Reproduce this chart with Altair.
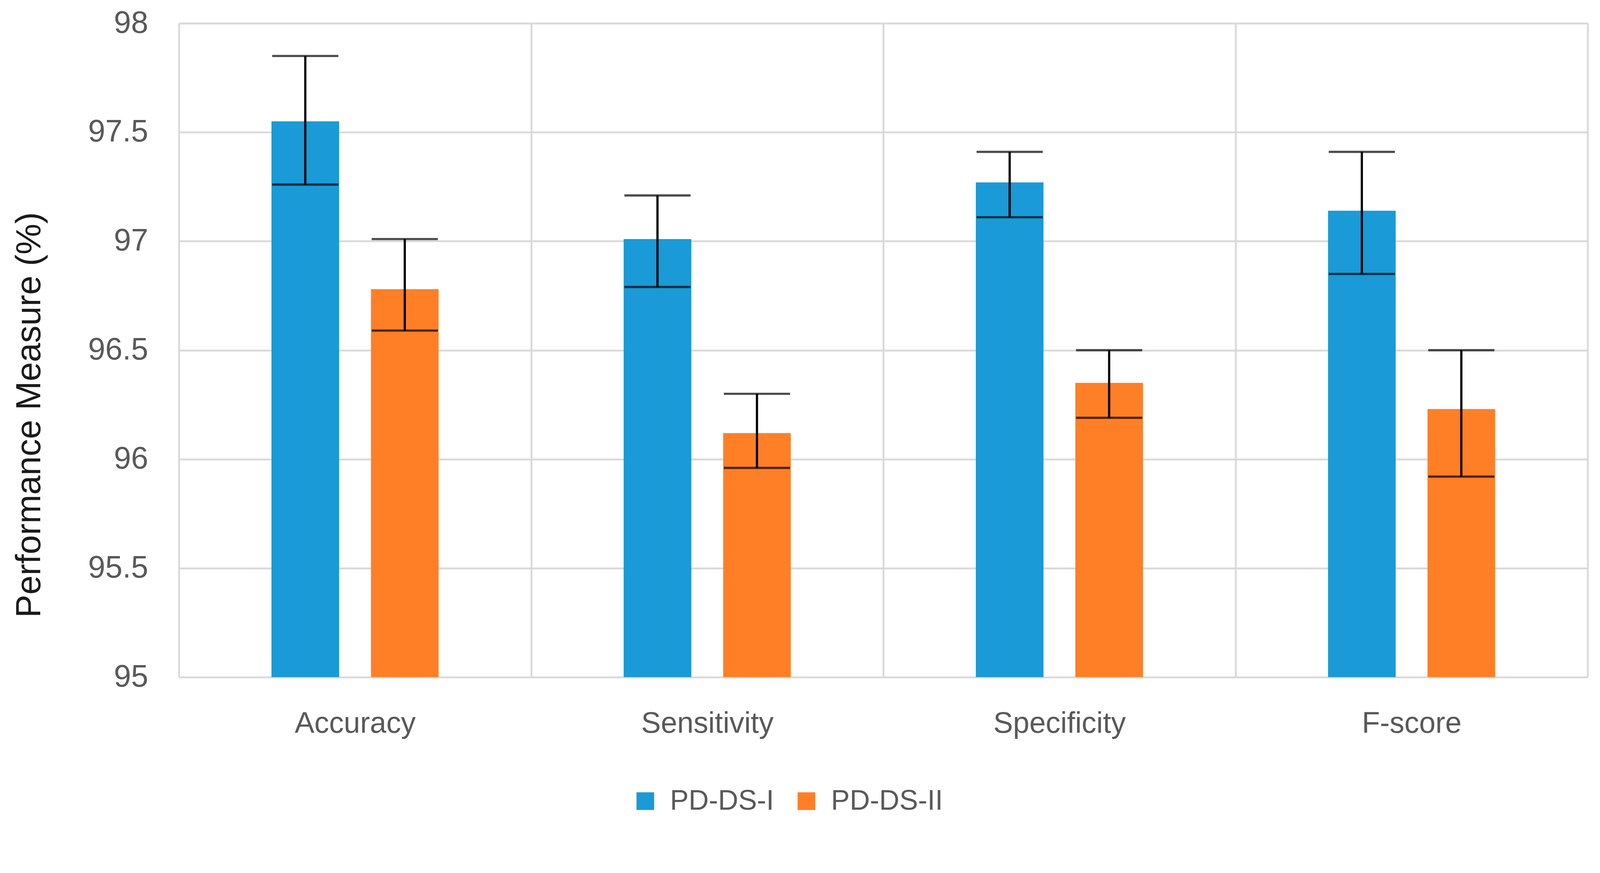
import altair as alt
import pandas as pd

metrics = ["Accuracy", "Sensitivity", "Specificity", "F-score"]
datasets = ["PD-DS-I", "PD-DS-II"]
ds1_mean = [97.55, 97.01, 97.27, 97.14]
ds1_lo = [97.26, 96.79, 97.11, 96.85]
ds1_hi = [97.85, 97.21, 97.41, 97.41]
ds2_mean = [96.78, 96.12, 96.35, 96.23]
ds2_lo = [96.59, 95.96, 96.19, 95.92]
ds2_hi = [97.01, 96.30, 96.50, 96.50]
y_ticks = [95, 95.5, 96, 96.5, 97, 97.5, 98]
colors = ["#1A9AD6", "#FF7F27"]

rows = []
for i, m in enumerate(metrics):
    rows.append({"Metric": m, "Dataset": datasets[0], "v": ds1_mean[i], "lo": ds1_lo[i], "hi": ds1_hi[i]})
    rows.append({"Metric": m, "Dataset": datasets[1], "v": ds2_mean[i], "lo": ds2_lo[i], "hi": ds2_hi[i]})
df = pd.DataFrame(rows)

FONT = "Liberation Sans"
GRID = "#d9d9d9"

x_enc = alt.X("Metric:N", sort=metrics, title=None,
              scale=alt.Scale(paddingInner=0, paddingOuter=0),
              axis=alt.Axis(labelAngle=0, labelFontSize=80, labelColor="#595959", labelFont=FONT,
                            labelLimit=0, labelPadding=87, ticks=False, tickSize=0, domain=False,
                            grid=True, tickBand="extent", gridColor=GRID, gridWidth=5))
xo_enc = alt.XOffset("Dataset:N", sort=datasets,
                     scale=alt.Scale(paddingInner=0.32, paddingOuter=0.93))
y_scale = alt.Scale(domain=[95, 98], zero=False, nice=False)

bars = alt.Chart(df).mark_bar().encode(
    x=x_enc,
    xOffset=xo_enc,
    y=alt.Y("v:Q", scale=y_scale, title="Performance Measure (%)",
            axis=alt.Axis(values=y_ticks, format=".1~f", labelFontSize=84, labelColor="#595959",
                          labelFont=FONT, labelPadding=84, ticks=False, tickSize=0, domain=False,
                          grid=True, gridColor=GRID, gridWidth=5,
                          titleFontSize=94, titleFont=FONT, titleFontWeight="normal", titleColor="#1a1a1a",
                          titleAngle=270, titleX=-406, titleY=1064, titleAlign="center",
                          titleBaseline="middle")),
    y2=alt.datum(95),
    color=alt.Color("Dataset:N", sort=datasets, title=None,
                    scale=alt.Scale(domain=datasets, range=colors),
                    legend=alt.Legend(orient="none", direction="horizontal", legendX=1230, legendY=2076,
                                      symbolType="square", symbolSize=2304, symbolStrokeWidth=0,
                                      labelFontSize=76, labelFont=FONT, labelColor="#595959",
                                      labelLimit=0, labelOffset=29, columnPadding=50, padding=0)),
)

rules = alt.Chart(df).mark_rule(color="black", strokeWidth=6).encode(
    x=alt.X("Metric:N", sort=metrics),
    xOffset=xo_enc,
    y=alt.Y("lo:Q", scale=y_scale),
    y2="hi:Q",
)

caps_lo = alt.Chart(df).mark_tick(color="black", size=180, thickness=6).encode(
    x=alt.X("Metric:N", sort=metrics),
    xOffset=xo_enc,
    y=alt.Y("lo:Q", scale=y_scale),
)
caps_hi = alt.Chart(df).mark_tick(color="black", size=180, thickness=6).encode(
    x=alt.X("Metric:N", sort=metrics),
    xOffset=xo_enc,
    y=alt.Y("hi:Q", scale=y_scale),
)

chart = alt.layer(bars, rules, caps_lo, caps_hi).properties(
    width=3830, height=1777,
    autosize=alt.AutoSizeParams(type="none"),
    padding={"left": 478, "top": -14, "right": 25, "bottom": 455},
).configure_view(stroke=None).configure(background="white")

chart.save("out.html", embed_options={"renderer": "svg", "actions": False})
